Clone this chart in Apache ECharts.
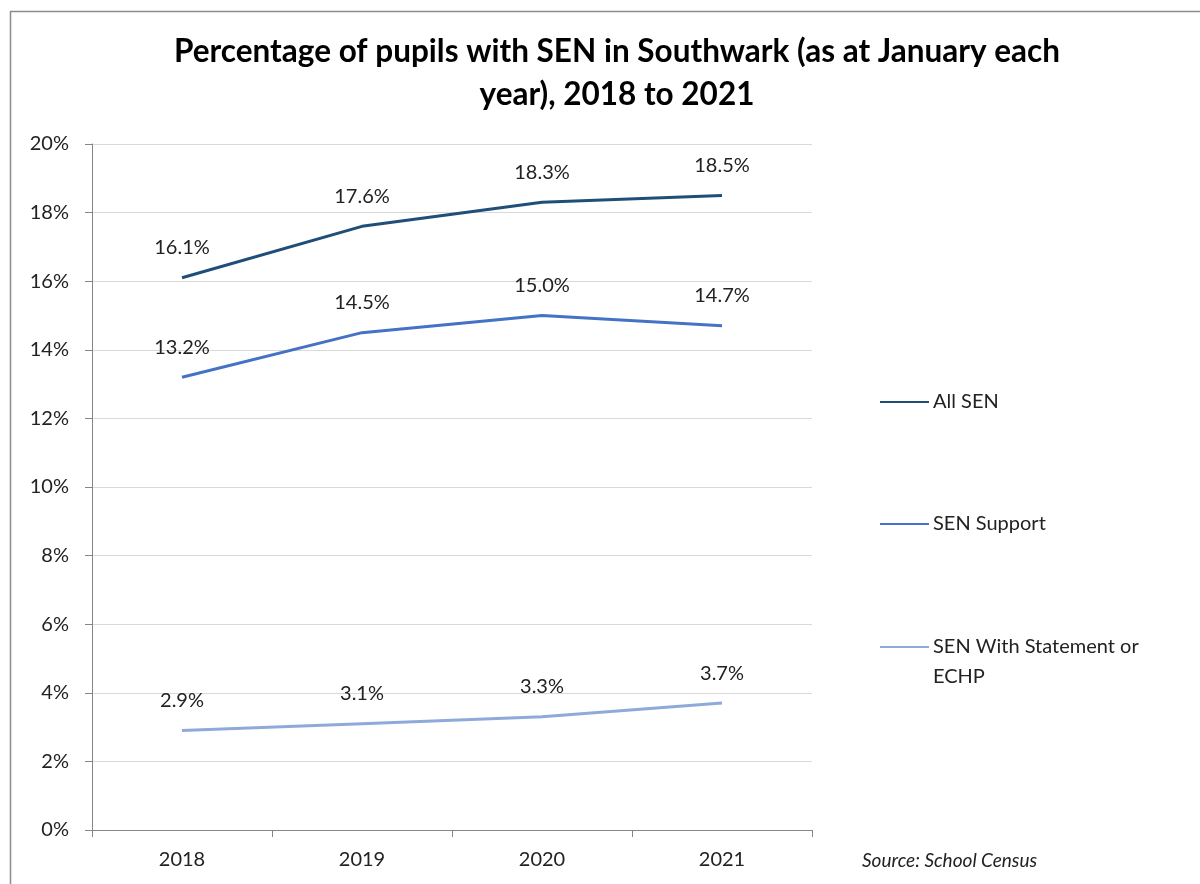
<!DOCTYPE html>
<html>
<head>
<meta charset="utf-8">
<title>SEN in Southwark</title>
<script src="https://cdn.jsdelivr.net/npm/echarts@6/dist/echarts.min.js"></script>
<style>
  html, body { margin: 0; padding: 0; background: #fff; }
  #chart { width: 1200px; height: 884px; }
</style>
</head>
<body>
<div id="chart"></div>
<script>
  // data
  var years = ['2018', '2019', '2020', '2021'];
  var allSen = [16.1, 17.6, 18.3, 18.5];
  var senSupport = [13.2, 14.5, 15.0, 14.7];
  var senStatement = [2.9, 3.1, 3.3, 3.7];
  var seriesNames = ['All SEN', 'SEN Support', 'SEN With Statement or ECHP'];
  var colors = ['#1f4e79', '#4472c4', '#8eaadb'];

  var font = 'Lato, "Open Sans", sans-serif';
  var myChart = echarts.init(document.getElementById('chart'));

  function lineSeries(name, data, idx) {
    return {
      name: name,
      type: 'line',
      data: data,
      symbol: 'circle',
      symbolSize: 0,
      showSymbol: true,
      lineStyle: { width: 3, color: colors[idx] },
      itemStyle: { color: colors[idx] },
      label: {
        show: true,
        position: 'top',
        distance: 20,
        color: '#222',
        fontSize: 20,
        fontFamily: font,
        formatter: function (p) { return p.value.toFixed(1) + '%'; }
      },
      emphasis: { disabled: true }
    };
  }

  function legendFor(name, top, text) {
    return {
      left: 875,
      top: top,
      data: [name],
      itemWidth: 49,
      itemHeight: 12,
      itemGap: 4,
      icon: 'path://M0,5 L49,5 L49,7 L0,7 Z',
      formatter: function () { return text; },
      textStyle: { fontSize: 20, color: '#222', fontFamily: font, lineHeight: 30, padding: [0, 0, 0, -1] }
    };
  }

  myChart.setOption({
    animation: false,
    color: colors,
    title: {
      text: 'Percentage of pupils with SEN in Southwark (as at January each\nyear), 2018 to 2021',
      left: 612,
      top: 25,
      textAlign: 'center',
      textStyle: { fontSize: 31.5, fontWeight: 'bold', color: '#000', fontFamily: font, lineHeight: 43 }
    },
    legend: [
      legendFor(seriesNames[0], 382, 'All SEN'),
      legendFor(seriesNames[1], 504, 'SEN Support'),
      // blank first line keeps the icon level with the first text line
      legendFor(seriesNames[2], 597, ' \nSEN With Statement or\nECHP')
    ],
    grid: { left: 92, right: 388, top: 144, bottom: 54 },
    xAxis: {
      type: 'category',
      data: years,
      axisLine: { lineStyle: { color: '#868686', width: 1 } },
      axisTick: { show: true, length: 7, lineStyle: { color: '#868686' } },
      axisLabel: { fontSize: 20, color: '#222', fontFamily: font, margin: 20 }
    },
    yAxis: {
      type: 'value',
      min: 0,
      max: 20,
      interval: 2,
      axisLine: { show: true, lineStyle: { color: '#868686', width: 1 } },
      axisTick: { show: true, length: 7, lineStyle: { color: '#868686' } },
      splitLine: { lineStyle: { color: '#d9d9d9', width: 1 } },
      axisLabel: { fontSize: 20, color: '#222', fontFamily: font, margin: 23, formatter: '{value}%' }
    },
    graphic: [
      {
        type: 'rect',
        silent: true,
        shape: { x: 10.5, y: 11.5, width: 1300, height: 1000 },
        style: { fill: 'none', stroke: '#8c8c8c', lineWidth: 1.5 }
      },
      {
        type: 'text',
        left: 862,
        top: 851,
        style: { text: 'Source: School Census', fontSize: 19, fontStyle: 'italic', fill: '#222', fontFamily: font }
      }
    ],
    series: [
      lineSeries(seriesNames[0], allSen, 0),
      lineSeries(seriesNames[1], senSupport, 1),
      lineSeries(seriesNames[2], senStatement, 2)
    ]
  });
</script>
</body>
</html>
